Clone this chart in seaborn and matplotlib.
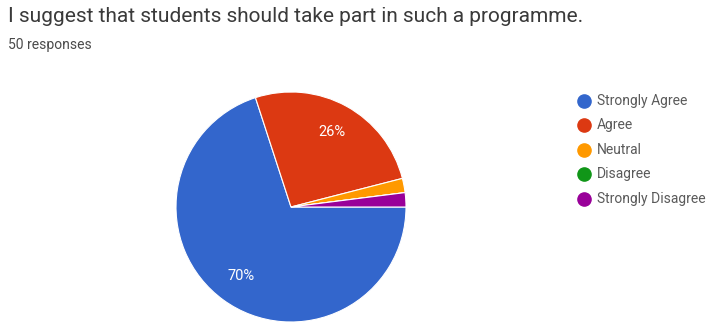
import matplotlib
matplotlib.use("Agg")
import matplotlib.pyplot as plt
from matplotlib.lines import Line2D
import seaborn as sns

# Survey responses (50 in total)
categories = ["Strongly Agree", "Agree", "Neutral", "Disagree", "Strongly Disagree"]
counts = [35, 13, 1, 0, 1]
colors = ["#3366cc", "#dc3912", "#ff9900", "#109618", "#990099"]

title = "I suggest that students should take part in such a programme."
subtitle = "50 responses"

sns.set_theme(style="white")
plt.rcParams["font.family"] = ["Roboto", "DejaVu Sans"]

W, H = 721, 327
fig = plt.figure(figsize=(W / 100, H / 100), dpi=100)
fig.patch.set_facecolor("white")

# Pie area: centre (291, 207) px, radius 115 px
cx, cy, r = 291, 207, 115
ax = fig.add_axes([(cx - r) / W, (H - cy - r) / H, 2 * r / W, 2 * r / H])


def pct_label(p):
    return f"{p:.0f}%" if p >= 5 else ""


wedges, texts, autotexts = ax.pie(
    counts,
    colors=colors,
    startangle=0,
    counterclock=False,
    autopct=pct_label,
    pctdistance=0.74,
    wedgeprops=dict(edgecolor="white", linewidth=0.8),
    textprops=dict(color="white", fontsize=10.5),
)
ax.set_xlim(-1, 1)
ax.set_ylim(-1, 1)
ax.set_aspect("equal")

fig.text(8 / W, 1 - 17 / H, title, fontsize=15, color="#3a3a3a",
         ha="left", va="center")
fig.text(8 / W, 1 - 45 / H, subtitle, fontsize=10, color="#4a4a4a",
         ha="left", va="center")

# Legend: round markers with labels, one row per category
row0, row_step = 100.5, 24.5
for i, (lab, c) in enumerate(zip(categories, colors)):
    y = 1 - (row0 + i * row_step) / H
    fig.add_artist(Line2D([584 / W], [y], marker="o", linestyle="",
                          markersize=9.5, markerfacecolor=c,
                          markeredgecolor=c, transform=fig.transFigure))
    fig.text(597 / W, y, lab, fontsize=10, color="#5a5a5a",
             ha="left", va="center")

fig.savefig("out.png", dpi=100, facecolor="white")
